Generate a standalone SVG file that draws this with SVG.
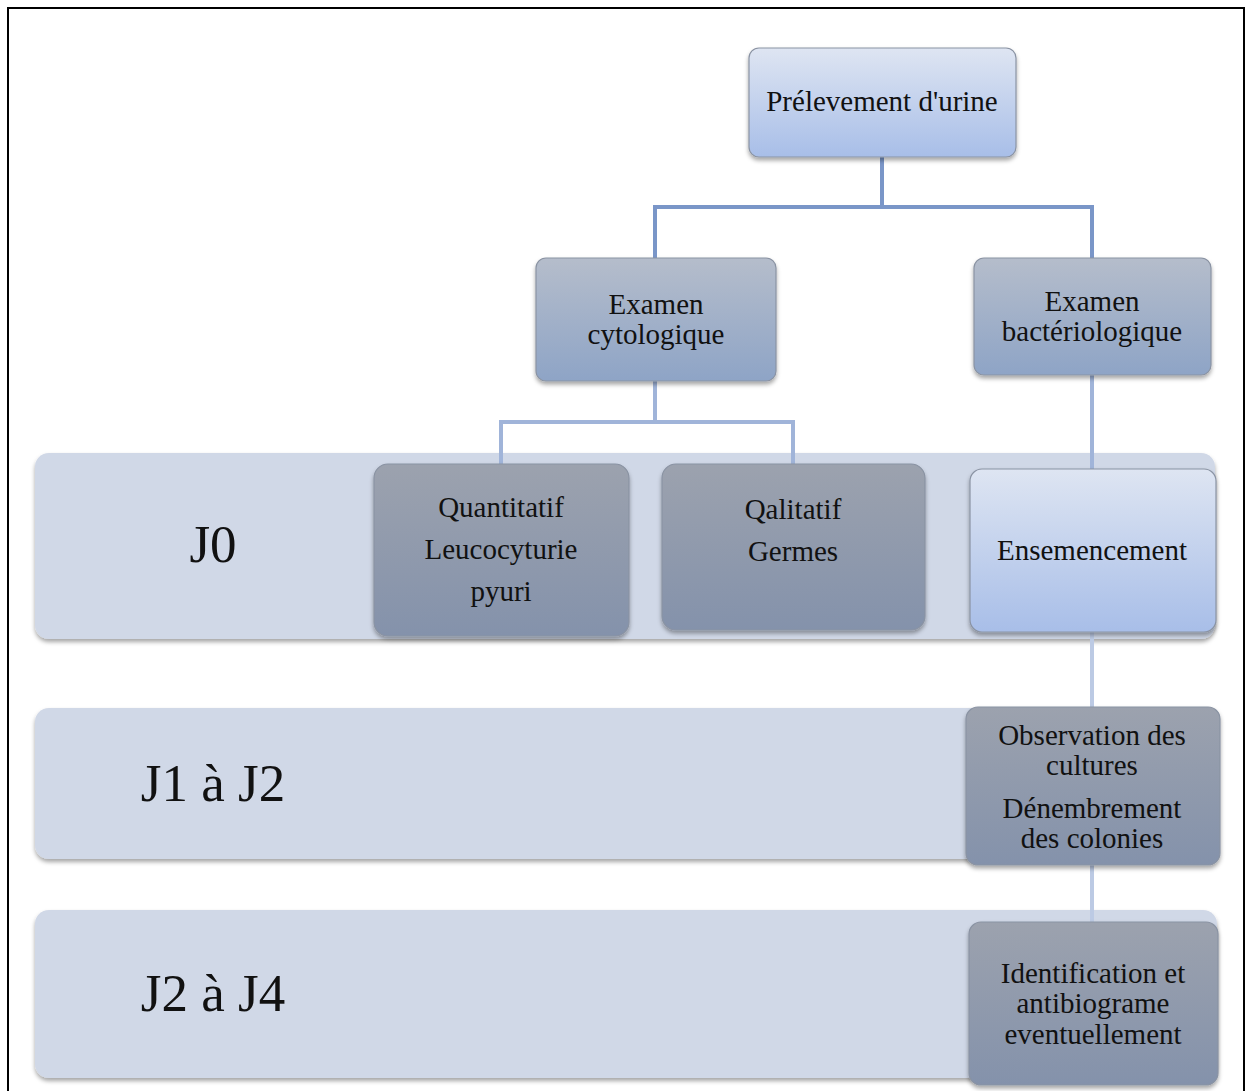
<svg xmlns="http://www.w3.org/2000/svg" width="1248" height="1091" viewBox="0 0 1248 1091">
<defs>
<linearGradient id="gLight" x1="0" y1="0" x2="0" y2="1">
<stop offset="0" stop-color="#dee5f2"/>
<stop offset="1" stop-color="#a8bee8"/>
</linearGradient>
<linearGradient id="gMid" x1="0" y1="0" x2="0" y2="1">
<stop offset="0" stop-color="#b5bdcb"/>
<stop offset="1" stop-color="#8ea4c6"/>
</linearGradient>
<linearGradient id="gDark" x1="0" y1="0" x2="0" y2="1">
<stop offset="0" stop-color="#9ca2ae"/>
<stop offset="1" stop-color="#8492ab"/>
</linearGradient>
<filter id="sh" x="-10%" y="-10%" width="120%" height="130%">
<feDropShadow dx="0" dy="3" stdDeviation="2" flood-color="#000" flood-opacity="0.35"/>
</filter>
</defs>
<style>
.band{fill:#d0d8e7;filter:url(#sh)}
.node{stroke:#8a93a3;stroke-width:1.2;filter:url(#sh)}
.t{font-family:"Liberation Serif","Times New Roman",serif;font-size:29px;fill:#111;text-anchor:middle}
.big{font-family:"Liberation Serif","Times New Roman",serif;font-size:53px;fill:#111;text-anchor:middle}
.c1{stroke:#7a96c8;stroke-width:4;fill:none}
.c2{stroke:#a0b4d9;stroke-width:4;fill:none}
.c3{stroke:#bccae4;stroke-width:4;fill:none}
</style>
<rect x="0" y="0" width="1248" height="1091" fill="#fff"/>
<rect x="8" y="8" width="1236" height="1090" fill="none" stroke="#000" stroke-width="2"/>

<g id="band-j0"><rect class="band" x="35" y="453" width="1180" height="186" rx="14"/><text class="big" x="213" y="562">J0</text></g>
<g id="band-j1"><rect class="band" x="35" y="708" width="1180" height="151" rx="14"/><text class="big" x="213" y="801">J1 à J2</text></g>
<g id="band-j2"><rect class="band" x="35" y="910" width="1182" height="168" rx="14"/><text class="big" x="213" y="1011">J2 à J4</text></g>

<g id="connectors">
<path class="c1" d="M882 157V207M655 258V207H1092V258"/>
<path class="c2" d="M655 381V422M501 464V422H793V464"/>
<path class="c2" d="M1092 375V469"/>
<path class="c3" d="M1092 632V707M1092 865V922"/>
</g>

<g id="n-prelevement"><rect class="node" x="749" y="48" width="267" height="109" rx="10" fill="url(#gLight)"/><text class="t" x="882" y="111">Prélevement d'urine</text></g>
<g id="n-cyto"><rect class="node" x="536" y="258" width="240" height="123" rx="10" fill="url(#gMid)"/><text class="t" x="656" y="314">Examen</text><text class="t" x="656" y="344">cytologique</text></g>
<g id="n-bacterio"><rect class="node" x="974" y="258" width="237" height="117" rx="10" fill="url(#gMid)"/><text class="t" x="1092" y="311">Examen</text><text class="t" x="1092" y="341">bactériologique</text></g>
<g id="n-quanti"><rect class="node" x="374" y="464" width="255" height="172" rx="14" fill="url(#gDark)"/><text class="t" x="501" y="517">Quantitatif</text><text class="t" x="501" y="559">Leucocyturie</text><text class="t" x="501" y="601">pyuri</text></g>
<g id="n-quali"><rect class="node" x="662" y="464" width="263" height="166" rx="14" fill="url(#gDark)"/><text class="t" x="793" y="519">Qalitatif</text><text class="t" x="793" y="561">Germes</text></g>
<g id="n-ensemencement"><rect class="node" x="970" y="469" width="246" height="163" rx="12" fill="url(#gLight)"/><text class="t" x="1092" y="560">Ensemencement</text></g>
<g id="n-observation"><rect class="node" x="966" y="707" width="254" height="158" rx="12" fill="url(#gDark)"/><text class="t" x="1092" y="745">Observation des</text><text class="t" x="1092" y="775">cultures</text><text class="t" x="1092" y="818">Dénembrement</text><text class="t" x="1092" y="848">des colonies</text></g>
<g id="n-identification"><rect class="node" x="969" y="922" width="249" height="163" rx="12" fill="url(#gDark)"/><text class="t" x="1093" y="983">Identification et</text><text class="t" x="1093" y="1013">antibiograme</text><text class="t" x="1093" y="1044">eventuellement</text></g>
</svg>
